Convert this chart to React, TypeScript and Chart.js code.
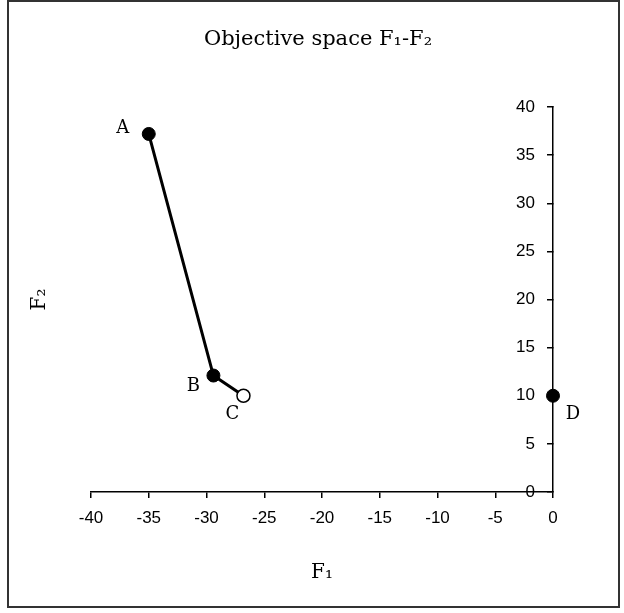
import React, { useEffect, useRef } from 'react';
import { Chart, registerables } from 'chart.js';

Chart.register(...registerables);

// ---- data ----
const chartTitle = 'Objective space F₁-F₂';
const xAxisTitle = 'F₁';
const yAxisTitle = 'F₂';

const pathLabels = ['A', 'B', 'C'];
const pathF1 = [-35, -29.4, -26.8];
const pathF2 = [37.2, 12.1, 10.0];

const pointDLabels = ['D'];
const pointDF1 = [0];
const pointDF2 = [10];

const xTickValues = [-40, -35, -30, -25, -20, -15, -10, -5, 0];
const yTickValues = [0, 5, 10, 15, 20, 25, 30, 35, 40];

// ---- label placement (pixels, relative to point) ----
const labelOffsets: Record<string, [number, number]> = {
  A: [-26, -6],
  B: [-20, 11],
  C: [-11, 19],
  D: [20, 19],
};

const SERIF = '"DejaVu Serif"';
const SANS = '"Liberation Sans"';

const annotatePlugin = {
  id: 'annotate',
  afterDatasetsDraw(chart: any) {
    const { ctx } = chart;
    const xs = chart.scales.x;
    const ys = chart.scales.y;
    ctx.save();
    ctx.font = `18px ${SERIF}`;
    ctx.fillStyle = '#000';
    ctx.textAlign = 'center';
    ctx.textBaseline = 'middle';
    pathLabels.forEach((l, i) => {
      const [dx, dy] = labelOffsets[l];
      ctx.fillText(l, xs.getPixelForValue(pathF1[i]) + dx, ys.getPixelForValue(pathF2[i]) + dy);
    });
    pointDLabels.forEach((l, i) => {
      const [dx, dy] = labelOffsets[l];
      ctx.fillText(l, xs.getPixelForValue(pointDF1[i]) + dx, ys.getPixelForValue(pointDF2[i]) + dy);
    });
    ctx.restore();
  },
  afterDraw(chart: any) {
    const { ctx } = chart;
    ctx.save();
    ctx.strokeStyle = '#333';
    ctx.lineWidth = 2;
    ctx.strokeRect(8, 1, 611, 606);
    ctx.restore();
  },
};

export default function App() {
  const ref = useRef<HTMLCanvasElement | null>(null);

  useEffect(() => {
    document.body.style.margin = '0';
    const canvas = ref.current;
    if (!canvas) return;

    const pathData = pathF1.map((x, i) => ({ x, y: pathF2[i] }));
    const dData = pointDF1.map((x, i) => ({ x, y: pointDF2[i] }));

    const chart = new Chart(canvas, {
      type: 'scatter',
      data: {
        datasets: [
          {
            data: pathData,
            showLine: true,
            borderColor: '#000',
            borderWidth: 3,
            pointRadius: 6.5,
            pointBackgroundColor: ['#000', '#000', '#fff'],
            pointBorderColor: '#000',
            pointBorderWidth: [1, 1, 1.5],
            clip: false,
          } as any,
          {
            data: dData,
            showLine: false,
            borderColor: '#000',
            pointRadius: 6.5,
            pointBackgroundColor: '#000',
            pointBorderColor: '#000',
            pointBorderWidth: 1,
            clip: false,
          } as any,
        ],
      },
      options: {
        responsive: false,
        animation: false,
        layout: { padding: { left: 12, right: 0, top: 0, bottom: 0 } },
        plugins: {
          legend: { display: false },
          tooltip: { enabled: false },
          title: {
            display: true,
            text: chartTitle,
            color: '#000',
            font: { family: SERIF, size: 21, weight: 'normal' },
            padding: { top: 27.4, bottom: 54.4 },
          },
        },
        scales: {
          x: {
            type: 'linear',
            position: 'bottom',
            min: xTickValues[0],
            max: xTickValues[xTickValues.length - 1],
            afterBuildTicks: (s: any) => {
              s.ticks = xTickValues.map((v) => ({ value: v }));
            },
            ticks: {
              color: '#000',
              font: { family: SANS, size: 17 },
              padding: 10,
              maxRotation: 0,
              autoSkip: false,
            },
            grid: { drawOnChartArea: false, drawTicks: true, tickLength: 6, color: '#000', lineWidth: 1.5 },
            border: { display: true, color: '#000', width: 1.5 },
            title: {
              display: true,
              text: xAxisTitle,
              color: '#000',
              font: { family: SERIF, size: 20 },
              padding: { top: 0, bottom: 28 },
            },
            afterFit: (s: any) => {
              s.height = 121;
            },
          } as any,
          y: {
            type: 'linear',
            position: 'right',
            min: yTickValues[0],
            max: yTickValues[yTickValues.length - 1],
            afterBuildTicks: (s: any) => {
              s.ticks = yTickValues.map((v) => ({ value: v }));
            },
            ticks: {
              color: '#000',
              font: { family: SANS, size: 17 },
              mirror: true,
              padding: -18,
              autoSkip: false,
            },
            grid: { drawOnChartArea: false, drawTicks: true, tickLength: -6, color: '#000', lineWidth: 1.5 },
            border: { display: true, color: '#000', width: 1.5 },
            afterFit: (s: any) => {
              s.width = 71;
            },
          } as any,
          y2: {
            type: 'linear',
            position: 'left',
            ticks: { display: false },
            grid: { display: false },
            border: { display: false },
            title: {
              display: true,
              text: yAxisTitle,
              color: '#000',
              font: { family: SERIF, size: 20 },
              padding: { top: 16, bottom: 0 },
            },
            afterFit: (s: any) => {
              s.width = 79;
            },
          } as any,
        },
      } as any,
      plugins: [annotatePlugin],
    });

    return () => chart.destroy();
  }, []);

  return <canvas ref={ref} width={624} height={613} style={{ display: 'block' }} />;
}
